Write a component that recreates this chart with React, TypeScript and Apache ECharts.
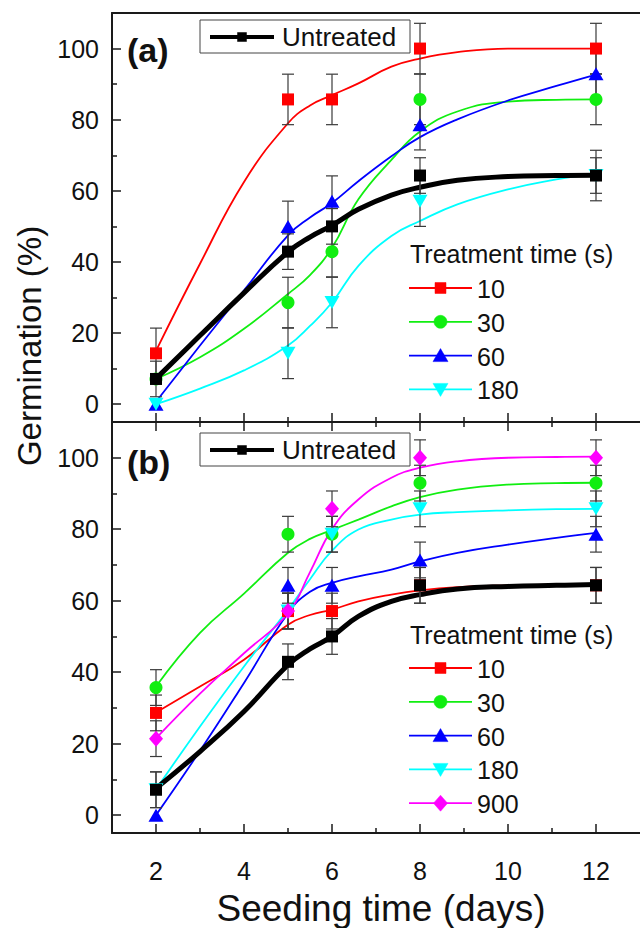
import React, { useEffect, useRef } from 'react';
import * as echarts from 'echarts';

// ---------- data ----------
const DAYS = [2, 5, 6, 8, 12];
const X_TICKS = [2, 4, 6, 8, 10, 12];
const X_MINOR = [3, 5, 7, 9, 11];
const Y_TICKS = [0, 20, 40, 60, 80, 100];
const Y_MINOR = [10, 30, 50, 70, 90];
const TREATMENTS_A = ['10', '30', '60', '180'];
const TREATMENTS_B = ['10', '30', '60', '180', '900'];

// panel (a) measured germination (%)
const A_UNTREATED = [7.1, 42.9, 50, 64.3, 64.3];
const A_10 = [14.3, 85.7, 85.7, 100, 100];
const A_30 = [7.1, 28.6, 42.9, 85.7, 85.7];
const A_60 = [0, 50, 57.1, 78.6, 92.9];
const A_180 = [0, 14.3, 28.6, 57.1, 64.3];

// panel (a) error bar half-lengths
const ERR_A_UNTREATED = [5, 5, 5, 5, 5];
const ERR_A_10 = [7.1, 7.1, 7.1, 7.1, 7.1];
const ERR_A_30 = [0, 7.1, 7.1, 7.1, 7.1];
const ERR_A_60 = [0, 7.1, 7.1, 7.1, 7.1];
const ERR_A_180 = [0, 7.1, 7.1, 7.1, 7.1];

// panel (b) measured germination (%)
const B_UNTREATED = [7.1, 42.9, 50, 64.3, 64.3];
const B_10 = [28.6, 57.1, 57.1, 64.3, 64.3];
const B_30 = [35.7, 78.6, 78.6, 92.9, 92.9];
const B_60 = [0, 64.3, 64.3, 71.4, 78.6];
const B_180 = [7.1, 57.1, 78.6, 85.7, 85.7];
const B_900 = [21.4, 57.1, 85.7, 100, 100];

// panel (b) error bar half-lengths
const ERR_B_UNTREATED = [5, 5, 5, 5, 5];
const ERR_B_10 = [5, 5, 5, 5, 5];
const ERR_B_30 = [5, 5, 5, 5, 5];
const ERR_B_60 = [0, 5, 5, 5, 5];
const ERR_B_180 = [5, 5, 5, 5, 5];
const ERR_B_900 = [5, 5, 5, 5, 5];

// fitted curves, values at CURVE_X
const CURVE_X = [2, 3, 4, 5, 5.5, 6, 6.6, 7.35, 8, 8.85, 10, 11.1, 12];
const A_UNTREATED_CURVE = [7.2, 19.3, 31.3, 42.8, 47, 50.3, 54.8, 58.8, 61, 63, 64, 64.3, 64.4];
const A_10_CURVE = [15, 39.5, 62.5, 79, 84, 86.9, 90.2, 94.9, 97.2, 99, 100, 100, 100];
const A_30_CURVE = [7.1, 13.2, 21.2, 31, 36.3, 44, 57.6, 68.7, 76.7, 82.3, 85.1, 85.6, 85.7];
const A_60_CURVE = [0.7, 16.5, 32, 47.5, 52.5, 56.6, 62.7, 69.7, 75.1, 80.1, 85.4, 89.5, 92.7];
const A_180_CURVE = [0, 4.4, 9.5, 16.5, 22, 28.6, 38.9, 47.3, 51.5, 56.2, 60.4, 63.2, 65];
const B_UNTREATED_CURVE = [7.5, 17.8, 29, 42, 46.5, 50, 55.6, 59.8, 61.7, 63.3, 64, 64.3, 64.5];
const B_10_CURVE = [28.7, 36, 43.5, 53.3, 56, 57.5, 59.8, 61.7, 62.9, 63.8, 64.3, 64.5, 64.5];
const B_30_CURVE = [36, 51, 62, 73.4, 77.3, 79.8, 82.7, 86.4, 89, 91.1, 92.5, 92.9, 93];
const B_60_CURVE = [0, 18, 37, 56.5, 62.5, 65, 66.8, 68.7, 71, 73.4, 75.7, 77.6, 79];
const B_180_CURVE = [7.2, 24.8, 41.6, 57.5, 66, 74, 79.9, 82.7, 84.1, 84.8, 85.3, 85.6, 85.7];
const B_900_CURVE = [21.5, 34, 45.3, 56.5, 68, 80, 88.3, 94.4, 97.2, 99, 100, 100.2, 100.3];

// ---------- styling ----------
const FONT = 'Arial, "Liberation Sans", Helvetica, sans-serif';
const AXIS_COLOR = '#1a1a1a';
const ERR_COLOR = '#3a3a3a';
const COLORS: Record<string, string> = {
  untreated: '#000000',
  '10': '#ff0000',
  '30': '#11ee11',
  '60': '#0000ff',
  '180': '#00ffff',
  '900': '#ff00ff',
};
const SYMBOLS: Record<string, { symbol: string; size: number | number[]; rotate?: number }> = {
  untreated: { symbol: 'rect', size: 12 },
  '10': { symbol: 'rect', size: 12 },
  '30': { symbol: 'circle', size: 13 },
  '60': { symbol: 'triangle', size: [15, 13] },
  '180': { symbol: 'triangle', size: [15, 13], rotate: 180 },
  '900': { symbol: 'diamond', size: [14, 16] },
};

type Entry = { key: string; values: number[]; err: number[]; curve: number[] };

const PANEL_A: Entry[] = [
  { key: '10', values: A_10, err: ERR_A_10, curve: A_10_CURVE },
  { key: '30', values: A_30, err: ERR_A_30, curve: A_30_CURVE },
  { key: '60', values: A_60, err: ERR_A_60, curve: A_60_CURVE },
  { key: '180', values: A_180, err: ERR_A_180, curve: A_180_CURVE },
  { key: 'untreated', values: A_UNTREATED, err: ERR_A_UNTREATED, curve: A_UNTREATED_CURVE },
];
const PANEL_B: Entry[] = [
  { key: '10', values: B_10, err: ERR_B_10, curve: B_10_CURVE },
  { key: '30', values: B_30, err: ERR_B_30, curve: B_30_CURVE },
  { key: '60', values: B_60, err: ERR_B_60, curve: B_60_CURVE },
  { key: '180', values: B_180, err: ERR_B_180, curve: B_180_CURVE },
  { key: '900', values: B_900, err: ERR_B_900, curve: B_900_CURVE },
  { key: 'untreated', values: B_UNTREATED, err: ERR_B_UNTREATED, curve: B_UNTREATED_CURVE },
];

function errorRender(params: any, api: any) {
  const x = api.value(0);
  const lo = api.value(1);
  const hi = api.value(2);
  const pLo = api.coord([x, lo]);
  const pHi = api.coord([x, hi]);
  const w = 6;
  const st = { stroke: ERR_COLOR, lineWidth: 1.2 };
  return {
    type: 'group',
    children: [
      { type: 'line', shape: { x1: pLo[0], y1: pLo[1], x2: pHi[0], y2: pHi[1] }, style: st },
      { type: 'line', shape: { x1: pLo[0] - w, y1: pLo[1], x2: pLo[0] + w, y2: pLo[1] }, style: st },
      { type: 'line', shape: { x1: pHi[0] - w, y1: pHi[1], x2: pHi[0] + w, y2: pHi[1] }, style: st },
    ],
  };
}

function panelSeries(entries: Entry[], xIdx: number, yIdx: number) {
  const out: any[] = [];
  entries.forEach((e) => {
    const color = COLORS[e.key];
    const isU = e.key === 'untreated';
    out.push({
      type: 'line',
      name: e.key + '-fit',
      xAxisIndex: xIdx,
      yAxisIndex: yIdx,
      data: CURVE_X.map((x, i) => [x, e.curve[i]]),
      smooth: 0.45,
      showSymbol: false,
      symbol: 'none',
      lineStyle: { color, width: isU ? 5 : 1.8 },
      z: isU ? 4 : 2,
      silent: true,
    });
    const bars = DAYS.map((d, i) => [d, e.values[i] - e.err[i], e.values[i] + e.err[i]]).filter(
      (_, i) => e.err[i] > 0
    );
    out.push({
      type: 'custom',
      name: e.key + '-err',
      xAxisIndex: xIdx,
      yAxisIndex: yIdx,
      renderItem: errorRender,
      data: bars,
      encode: { x: 0, y: [1, 2] },
      z: 5,
      silent: true,
    });
  });
  entries.forEach((e) => {
    const s = SYMBOLS[e.key];
    out.push({
      type: 'scatter',
      name: e.key,
      xAxisIndex: xIdx,
      yAxisIndex: yIdx,
      data: DAYS.map((d, i) => [d, e.values[i]]),
      symbol: s.symbol,
      symbolSize: s.size,
      symbolRotate: s.rotate || 0,
      itemStyle: { color: COLORS[e.key], opacity: 1 },
      z: e.key === 'untreated' ? 7 : 6,
      silent: true,
    });
  });
  return out;
}

// ---------- axes ----------
const lineStyle = { color: AXIS_COLOR, width: 2 };
const tickStyle = { color: AXIS_COLOR, width: 1.5 };

function xAxis(grid: number, position: string, opts: any) {
  return {
    type: 'value',
    gridIndex: grid,
    position,
    min: 1,
    max: 13,
    axisLine: { show: !!opts.line, onZero: false, lineStyle },
    axisTick: opts.ticks
      ? { show: true, inside: true, length: opts.len, customValues: opts.ticks, lineStyle: tickStyle }
      : { show: false },
    axisLabel: opts.labels
      ? { show: true, customValues: X_TICKS, fontSize: 25, margin: 25, color: '#111', fontFamily: FONT }
      : { show: false },
    splitLine: { show: false },
  };
}
function yAxis(grid: number, opts: any) {
  return {
    type: 'value',
    gridIndex: grid,
    position: 'left',
    min: -5,
    max: 110,
    axisLine: { show: !!opts.line, onZero: false, lineStyle },
    axisTick: { show: true, inside: true, length: opts.len, customValues: opts.ticks, lineStyle: tickStyle },
    axisLabel: opts.labels
      ? { show: true, customValues: Y_TICKS, fontSize: 25, margin: 13, color: '#111', fontFamily: FONT }
      : { show: false },
    splitLine: { show: false },
  };
}

// ---------- legends (graphic) ----------
function markerGraphic(key: string, cx: number, cy: number) {
  const color = COLORS[key];
  const style = { fill: color, stroke: color, lineWidth: 0.5 };
  if (key === '10' || key === 'untreated') {
    const s = key === 'untreated' ? 9 : 11;
    return { type: 'rect', shape: { x: cx - s / 2, y: cy - s / 2, width: s, height: s }, style };
  }
  if (key === '30') return { type: 'circle', shape: { cx, cy, r: 6.5 }, style };
  if (key === '60')
    return { type: 'polygon', shape: { points: [[cx, cy - 7], [cx + 7.5, cy + 6], [cx - 7.5, cy + 6]] }, style };
  if (key === '180')
    return { type: 'polygon', shape: { points: [[cx, cy + 7], [cx + 7.5, cy - 6], [cx - 7.5, cy - 6]] }, style };
  return { type: 'polygon', shape: { points: [[cx, cy - 8], [cx + 7, cy], [cx, cy + 8], [cx - 7, cy]] }, style };
}

function treatmentLegend(keys: string[], titleY: number, firstRowY: number, step: number) {
  const els: any[] = [
    {
      type: 'text',
      x: 410,
      y: titleY,
      style: { text: 'Treatment time (s)', fontSize: 25, fontFamily: FONT, fill: '#111', align: 'left', verticalAlign: 'middle' },
    },
  ];
  keys.forEach((k, i) => {
    const y = firstRowY + i * step;
    els.push({ type: 'line', shape: { x1: 409, y1: y, x2: 472, y2: y }, style: { stroke: COLORS[k], lineWidth: 1.8 } });
    els.push(markerGraphic(k, 440.5, y));
    els.push({
      type: 'text',
      x: 477,
      y: y + 1,
      style: { text: k, fontSize: 25, fontFamily: FONT, fill: '#111', align: 'left', verticalAlign: 'middle' },
    });
  });
  return els;
}

function untreatedBox(top: number, label: string, labelY: number) {
  const cy = top + 17;
  return [
    {
      type: 'rect',
      shape: { x: 200, y: top, width: 210, height: 33 },
      style: { fill: '#fff', stroke: '#444', lineWidth: 1 },
    },
    { type: 'line', shape: { x1: 210, y1: cy, x2: 274, y2: cy }, style: { stroke: '#000', lineWidth: 4 } },
    markerGraphic('untreated', 242, cy),
    {
      type: 'text',
      x: 282,
      y: cy,
      style: { text: 'Untreated', fontSize: 26, fontFamily: FONT, fill: '#111', align: 'left', verticalAlign: 'middle' },
    },
    {
      type: 'text',
      x: 127,
      y: labelY,
      style: { text: label, fontSize: 34, fontWeight: 'bold', fontFamily: FONT, fill: '#111', align: 'left', verticalAlign: 'middle' },
    },
  ];
}

function buildOption() {
  return {
    animation: false,
    backgroundColor: '#ffffff',
    grid: [
      { left: 112, top: 13, width: 537, height: 409 },
      { left: 112, top: 422, width: 537, height: 411 },
    ],
    xAxis: [
      xAxis(0, 'bottom', { line: true, ticks: X_TICKS, len: 9 }),
      xAxis(0, 'bottom', { ticks: X_MINOR, len: 5 }),
      xAxis(0, 'top', { line: true }),
      xAxis(1, 'bottom', { line: true, ticks: X_TICKS, len: 9, labels: true }),
      xAxis(1, 'bottom', { ticks: X_MINOR, len: 5 }),
      xAxis(1, 'top', { line: true, ticks: X_TICKS, len: 9 }),
      xAxis(1, 'top', { ticks: X_MINOR, len: 5 }),
    ],
    yAxis: [
      yAxis(0, { line: true, ticks: Y_TICKS, len: 9, labels: true }),
      yAxis(0, { ticks: Y_MINOR, len: 5 }),
      yAxis(1, { line: true, ticks: Y_TICKS, len: 9, labels: true }),
      yAxis(1, { ticks: Y_MINOR, len: 5 }),
    ],
    series: [...panelSeries(PANEL_A, 0, 0), ...panelSeries(PANEL_B, 3, 2)],
    graphic: [
      ...untreatedBox(20, '(a)', 50),
      ...untreatedBox(433, '(b)', 462),
      ...treatmentLegend(TREATMENTS_A, 254, 288, 33.8),
      ...treatmentLegend(TREATMENTS_B, 635, 668, 33.8),
      {
        type: 'text',
        x: 29,
        y: 346,
        rotation: Math.PI / 2,
        style: { text: 'Germination (%)', fontSize: 33, fontFamily: FONT, fill: '#111', align: 'center', verticalAlign: 'middle' },
      },
      {
        type: 'text',
        x: 381,
        y: 908,
        style: { text: 'Seeding time (days)', fontSize: 37, fontFamily: FONT, fill: '#111', align: 'center', verticalAlign: 'middle' },
      },
    ],
  };
}

export default function App() {
  const ref = useRef<HTMLDivElement>(null);
  useEffect(() => {
    document.body.style.margin = '0';
    const chart = echarts.init(ref.current as HTMLDivElement, null, { renderer: 'svg' });
    chart.setOption(buildOption() as any);
    return () => chart.dispose();
  }, []);
  return <div ref={ref} style={{ width: 640, height: 928 }} />;
}
